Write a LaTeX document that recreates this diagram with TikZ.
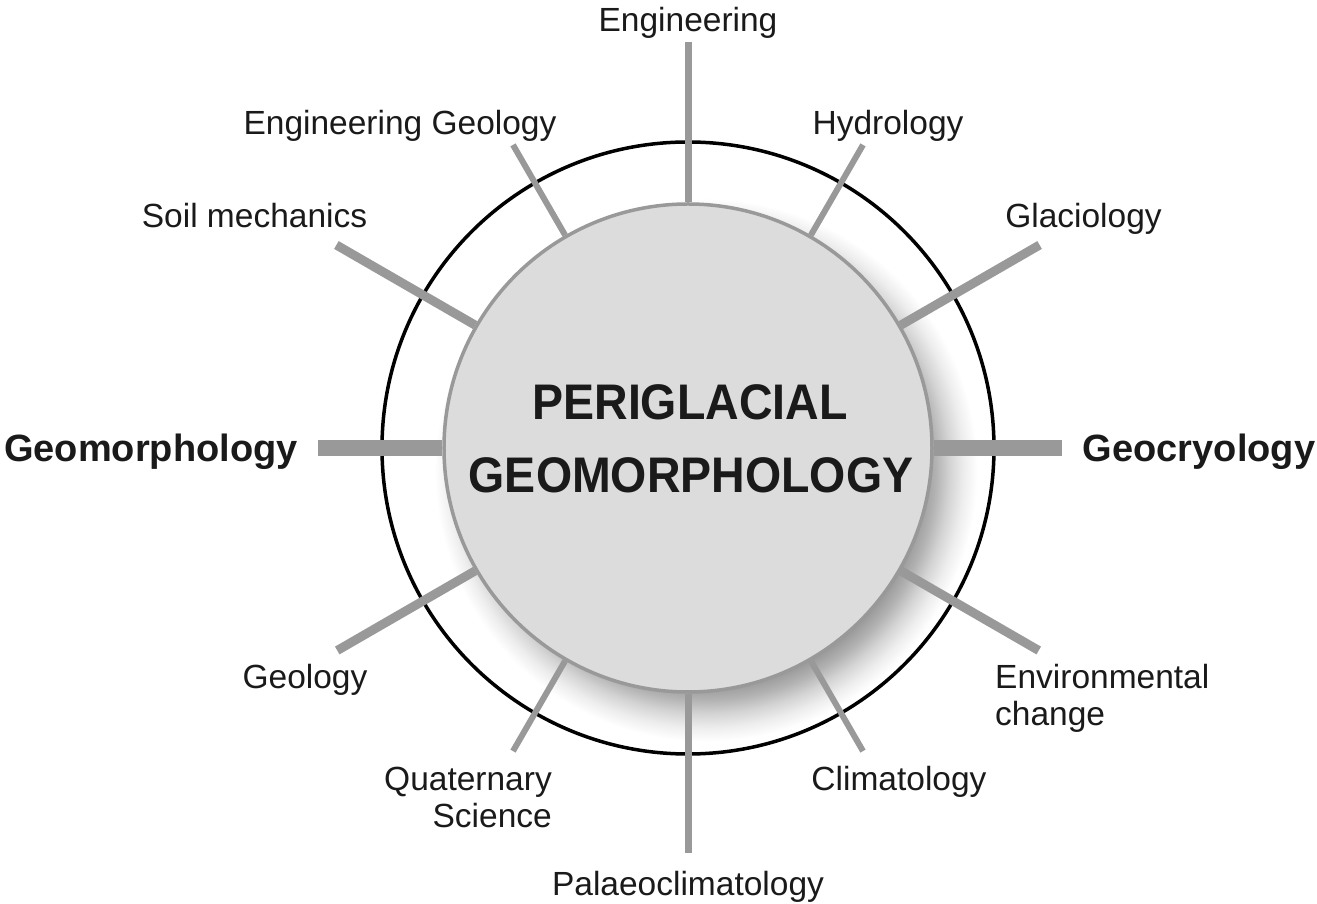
\documentclass[tikz,border=0pt]{standalone}
\usepackage{fontspec}
\usepackage{graphicx}
\setmainfont{Liberation Sans}
\definecolor{spoke}{HTML}{999999}
\definecolor{disc}{HTML}{DCDCDC}
\definecolor{ink}{HTML}{1A1A1A}
\pgfdeclareradialshading{discshadow}{\pgfpoint{0cm}{0cm}}{%
  color(0bp)=(black!40); color(18.6bp)=(black!40); color(19.8bp)=(black!30);
  color(21bp)=(black!17); color(22.2bp)=(black!7); color(23.4bp)=(white); color(50bp)=(white)}
\begin{document}
\begin{tikzpicture}[x=1pt,y=1pt,
  lbl/.style={font=\fontsize{33.5}{37}\selectfont, text=ink, inner sep=0pt},
  blbl/.style={font=\bfseries\fontsize{38}{44}\selectfont, text=ink, inner sep=0pt},
  ctext/.style={font=\bfseries\fontsize{50}{56}\selectfont, text=ink, inner sep=0pt, anchor=base},
  spkmid/.style={draw=spoke, line width=7pt},
  spkdiag/.style={draw=spoke, line width=9pt},
  spkthin/.style={draw=spoke, line width=6pt},
  spkthick/.style={draw=spoke, line width=16pt},
  ring/.style={circle, draw=black, line width=3.5pt, minimum size=612pt, inner sep=0pt},
  discnode/.style={circle, fill=disc, draw=spoke, line width=3.5pt, minimum size=488pt, inner sep=0pt}]
\useasboundingbox (-688,-456) rectangle (629,448);
\fill[white] (-688,-456) rectangle (629,448);
\coordinate (c) at (0,0);
% soft shadow of the central disc, kept inside the outer ring
\begin{scope}
  \clip (c) circle (306pt);
  \shade[shading=discshadow] (18,-22) circle (290pt);
\end{scope}
\node[ring] (outer) at (c) {};
\node[discnode] (inner) at (c) {};
% free ends of the spokes
\coordinate (e90) at (90:406pt);
\coordinate (e60) at (60:350pt);
\coordinate (e30) at (30:406pt);
\coordinate (e0) at (0:374pt);
\coordinate (em30) at (-30:405pt);
\coordinate (em60) at (-60:350pt);
\coordinate (em90) at (-90:405pt);
\coordinate (em120) at (-120:350pt);
\coordinate (em150) at (-150:405pt);
\coordinate (e180) at (180:370pt);
\coordinate (e150) at (150:406pt);
\coordinate (e120) at (120:350pt);
% spokes
\draw[spkmid] (inner.90) -- (e90);
\draw[spkmid] (inner.-90) -- (em90);
\draw[spkthin] (inner.60) -- (e60);
\draw[spkthin] (inner.-60) -- (em60);
\draw[spkthin] (inner.-120) -- (em120);
\draw[spkthin] (inner.120) -- (e120);
\draw[spkdiag] (inner.30) -- (e30);
\draw[spkdiag] (inner.-30) -- (em30);
\draw[spkdiag] (inner.-150) -- (em150);
\draw[spkdiag] (inner.150) -- (e150);
\draw[spkthick] (inner.0) -- (e0);
\draw[spkthick] (inner.180) -- (e180);
% labels
\node[lbl, anchor=base] (eng) at (0,416) {Engineering};
\node[lbl, anchor=base] (enggeo) at (-288,313) {Engineering Geology};
\node[lbl, anchor=base] (soil) at (-433.5,220) {Soil mechanics};
\node[lbl, anchor=base] (hydro) at (200,313) {Hydrology};
\node[lbl, anchor=base] (glac) at (395.5,220) {Glaciology};
\node[blbl, anchor=base] (geomorph) at (-537,-14) {Geomorphology};
\node[blbl, anchor=base] (geocryo) at (511,-14) {Geocryology};
\node[lbl, anchor=base] (geol) at (-383,-241) {Geology};
\node[lbl, anchor=base west, align=left] (env) at (307,-277) {Environmental\\change};
\node[lbl, anchor=base east, align=right] (quat) at (-136,-379) {Quaternary\\Science};
\node[lbl, anchor=base] (clim) at (211,-342) {Climatology};
\node[lbl, anchor=base] (palaeo) at (0,-447) {Palaeoclimatology};
% centre title
\node[ctext] (title1) at (2,28) {\scalebox{0.93}[1]{PERIGLACIAL}};
\node[ctext] (title2) at (3,-45) {\scalebox{0.93}[1]{GEOMORPHOLOGY}};
\end{tikzpicture}
\end{document}
